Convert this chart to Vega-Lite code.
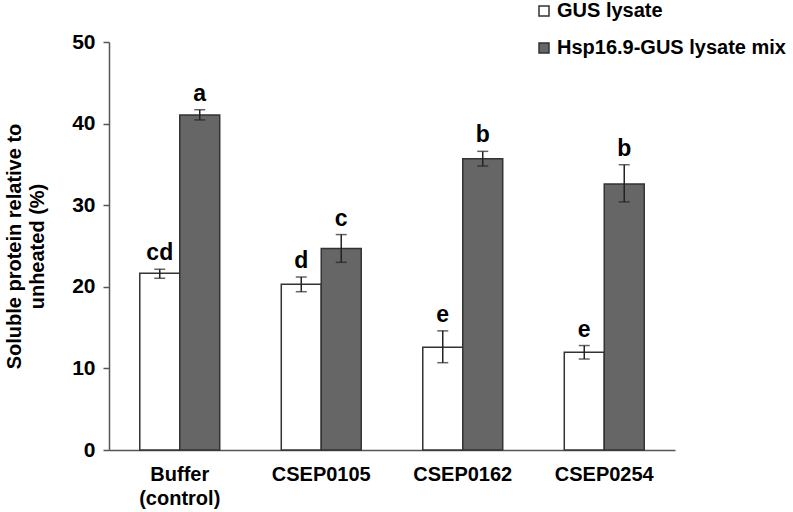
{
  "$schema": "https://vega.github.io/schema/vega-lite/v6.json",
  "width": 566,
  "height": 408,
  "autosize": "none",
  "padding": {"left": 109, "top": 42, "right": 118, "bottom": 62},
  "background": "white",
  "config": {
    "view": {"stroke": null},
    "font": "Liberation Sans",
    "axis": {"labelFont": "Liberation Sans", "titleFont": "Liberation Sans"},
    "legend": {"labelFont": "Liberation Sans"}
  },
  "data": {
    "values": [
      {"group": "Buffer\n(control)", "series": "GUS lysate", "value": 21.65, "lo": 21.05, "hi": 22.15, "letter": "cd"},
      {"group": "Buffer\n(control)", "series": "Hsp16.9-GUS lysate mix", "value": 41.05, "lo": 40.45, "hi": 41.7, "letter": "a"},
      {"group": "CSEP0105", "series": "GUS lysate", "value": 20.3, "lo": 19.4, "hi": 21.2, "letter": "d"},
      {"group": "CSEP0105", "series": "Hsp16.9-GUS lysate mix", "value": 24.7, "lo": 23.0, "hi": 26.4, "letter": "c"},
      {"group": "CSEP0162", "series": "GUS lysate", "value": 12.6, "lo": 10.7, "hi": 14.6, "letter": "e"},
      {"group": "CSEP0162", "series": "Hsp16.9-GUS lysate mix", "value": 35.7, "lo": 34.8, "hi": 36.6, "letter": "b"},
      {"group": "CSEP0254", "series": "GUS lysate", "value": 11.97, "lo": 11.15, "hi": 12.8, "letter": "e"},
      {"group": "CSEP0254", "series": "Hsp16.9-GUS lysate mix", "value": 32.6, "lo": 30.4, "hi": 34.96, "letter": "b"}
    ]
  },
  "encoding": {
    "x": {
      "field": "group",
      "type": "nominal",
      "sort": null,
      "scale": {"paddingInner": 0.435, "paddingOuter": 0.2175},
      "axis": {
        "title": null,
        "labelAngle": 0,
        "labelExpr": "split(datum.value, '\\n')",
        "labelFontSize": 20,
        "labelFontWeight": "bold",
        "labelColor": "black",
        "labelLineHeight": 24,
        "labelPadding": 14,
        "ticks": false,
        "domainColor": "#555555",
        "domainWidth": 1.5
      }
    },
    "xOffset": {
      "field": "series",
      "type": "nominal",
      "sort": null,
      "scale": {"paddingInner": 0, "paddingOuter": 0}
    }
  },
  "layer": [
    {
      "mark": {"type": "bar", "stroke": "#333333", "strokeWidth": 1.5},
      "encoding": {
        "y": {
          "field": "value",
          "type": "quantitative",
          "scale": {"domain": [0, 50], "nice": false, "zero": true},
          "axis": {
            "values": [0, 10, 20, 30, 40, 50],
            "grid": false,
            "title": ["Soluble protein relative to", "unheated (%)"],
            "titleFontSize": 20,
            "titleFontWeight": "bold",
            "titleColor": "black",
            "titleLineHeight": 23,
            "titlePadding": 24,
            "labelFontSize": 21,
            "labelFontWeight": "bold",
            "labelColor": "black",
            "labelPadding": 8,
            "tickSize": 6,
            "tickColor": "#555555",
            "tickWidth": 1.5,
            "domainColor": "#555555",
            "domainWidth": 1.5
          }
        },
        "fill": {
          "field": "series",
          "type": "nominal",
          "sort": null,
          "scale": {"range": ["#ffffff", "#666666"]},
          "legend": {
            "title": null,
            "orient": "none",
            "legendX": 425,
            "legendY": -41,
            "direction": "vertical",
            "padding": 0,
            "symbolType": "square",
            "symbolSize": 100,
            "symbolStrokeColor": "#333333",
            "symbolStrokeWidth": 1.5,
            "labelFontSize": 20,
            "labelFontWeight": "bold",
            "labelColor": "black",
            "labelOffset": 3,
            "labelLimit": 0,
            "rowPadding": 17
          }
        }
      }
    },
    {
      "mark": {"type": "rule", "color": "#222222", "strokeWidth": 1.5},
      "encoding": {
        "y": {"field": "lo", "type": "quantitative"},
        "y2": {"field": "hi"}
      }
    },
    {
      "mark": {"type": "tick", "color": "#222222", "thickness": 1.5, "size": 11},
      "encoding": {"y": {"field": "lo", "type": "quantitative"}}
    },
    {
      "mark": {"type": "tick", "color": "#222222", "thickness": 1.5, "size": 11},
      "encoding": {"y": {"field": "hi", "type": "quantitative"}}
    },
    {
      "mark": {"type": "text", "baseline": "alphabetic", "dy": -9, "fontSize": 23, "fontWeight": "bold", "color": "black"},
      "encoding": {
        "y": {"field": "hi", "type": "quantitative"},
        "text": {"field": "letter"}
      }
    }
  ]
}
